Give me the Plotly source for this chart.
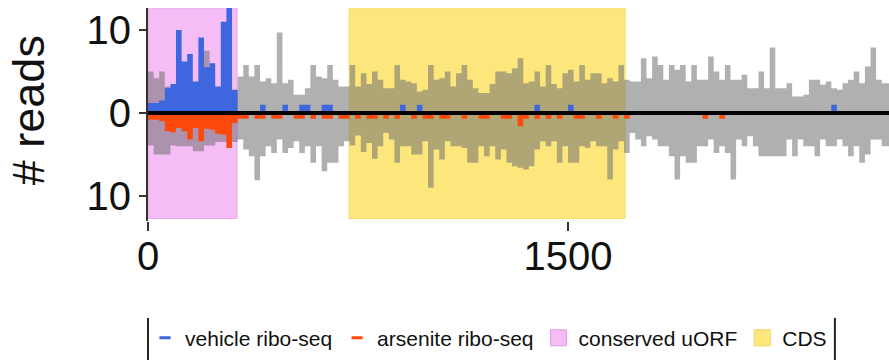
import numpy as np
import plotly.graph_objects as go

BIN_NT = 20  # nucleotides per bin

# gray: total reads (upper = vehicle, lower = arsenite)
gray_up = [
    5, 4.2, 5, 3.2, 3, 3, 3, 3, 3, 3,
    7.5, 3, 3, 3, 6.8, 2.5, 4.4, 5.8, 4.4, 5.8,
    3.8, 4.2, 3.6, 9.7, 3.6, 4, 2.2, 2.2, 3, 5.8,
    4.4, 4.2, 5.8, 4, 3.2, 3.2, 5.8, 3.2, 4.8, 3.5,
    5, 4, 3, 3, 5.8, 4, 3.8, 3.6, 2.6, 2.8,
    5.8, 4, 4.2, 5, 3.2, 4.8, 5.8, 4, 3, 2.4,
    2.4, 3.5, 5, 5, 4.8, 5.4, 6.6, 3.6, 3.8, 5,
    3.2, 5.8, 3.5, 3, 4.8, 5.2, 3.8, 5.8, 4, 4.8,
    4.8, 3.6, 4.2, 3.8, 5.8, 4, 3.8, 3.8, 6.6, 4.2,
    6.8, 5.8, 4, 5.8, 5.2, 5.8, 3.8, 5.8, 4, 4,
    6.8, 5, 4, 5.8, 4, 4, 4.6, 3, 3, 5,
    3, 7.9, 3, 3, 3.6, 2, 2, 2.2, 4, 4,
    3.4, 3.8, 3, 2.8, 3.6, 4, 5, 3.6, 5.6, 7.9,
    4, 3.6, 3.6,
]
gray_down = [
    -3.9, -5, -5, -5, -3.9, -4, -4, -4, -4.6, -4.6,
    -3.9, -3.9, -3.5, -3.5, -3.5, -3.5, -3.2, -4.4, -5.2, -8.1,
    -5.2, -4, -4.8, -3.2, -4.8, -4.2, -3.4, -4.8, -4, -6,
    -4, -7, -6, -6, -4, -3.4, -3.9, -2.7, -4.7, -3.6,
    -5.5, -4, -2.4, -3.2, -6, -4, -4, -5, -5, -3.4,
    -9, -4.4, -5.6, -3.4, -4, -4, -4.2, -6, -6, -4,
    -5.2, -4, -5.6, -4.4, -6, -6.4, -6.6, -6.8, -6.4, -4.4,
    -3.4, -4, -3.4, -6, -4, -6, -6, -4, -4.2, -3.4,
    -4, -4, -8, -4.4, -3.4, -4.8, -2.4, -3.2, -4, -2.8,
    -3.2, -4, -4, -5.2, -8, -5.2, -6, -6, -4, -4,
    -3.2, -4.8, -4, -4.8, -8, -3.2, -4, -2.8, -4, -5.2,
    -5.2, -5.2, -5.2, -5.2, -3.2, -5.2, -3.2, -4, -4, -5.2,
    -3.2, -4, -4, -3.2, -4, -5.2, -4, -6, -5, -3.2,
    -3.2, -4, -4,
]
vehicle_ribo = [
    1.2, 1.2, 1.5, 3, 3.5, 10, 6.2, 7.1, 3.8, 9.1,
    5.5, 6, 3.2, 11, 14, 2.8, 0, 0, 0, 0,
    1, 0, 0, 0, 1, 0, 0, 1, 1, 0,
    0, 1, 1, 0, 0, 0, 0, 0, 0, 0,
    0, 0, 0, 0, 0, 1, 0, 0, 1, 0,
    0, 0, 0, 0, 0, 0, 0, 0, 0, 0,
    0, 0, 0, 0, 0, 0, 0, 0, 0, 1,
    0, 0, 0, 0, 0, 1, 0, 0, 0, 0,
    0, 0, 0, 0, 0, 0, 0, 0, 0, 0,
    0, 0, 0, 0, 0, 0, 0, 0, 0, 0,
    0, 0, 0, 0, 0, 0, 0, 0, 0, 0,
    0, 0, 0, 0, 0, 0, 0, 0, 0, 0,
    0, 0, 1, 0, 0, 0, 0, 0, 0, 0,
    0, 0, 0,
]
arsenite_ribo = [
    -0.8, -0.8, -1, -2.2, -2.3, -1.8, -2.2, -3.2, -1.8, -3.4,
    -1.9, -2, -2.5, -2.6, -4.2, -1.2, -0.7, -0.7, 0, -0.7,
    -0.7, 0, -0.7, -0.7, 0, 0, -0.7, -0.7, 0, -0.7,
    0, -0.7, -0.7, 0, -0.7, -0.7, 0, -0.7, 0, -0.7,
    -0.7, 0, -0.7, 0, -0.7, 0, 0, -0.7, 0, -0.7,
    -0.7, 0, -0.7, -0.7, 0, 0, -0.7, 0, 0, -0.7,
    -0.7, 0, 0, -0.7, -0.7, 0, -1.6, -0.7, 0, -0.7,
    0, -0.7, 0, -0.7, 0, 0, -0.7, -0.7, 0, 0,
    -0.7, 0, 0, -0.7, 0, -0.7, 0, 0, 0, 0,
    0, 0, 0, 0, 0, 0, 0, 0, 0, -0.7,
    0, 0, -0.7, 0, 0, 0, 0, 0, 0, 0,
    0, 0, 0, 0, 0, 0, 0, 0, 0, 0,
    0, 0, 0, 0, 0, 0, 0, 0, 0, 0,
    0, 0, 0,
]

uorf_region = [0, 318]
cds_region = [718, 1704]
x_ticks = [0, 1500]
y_ticks = [10, 0, -10]
y_ticktext = ["10", "0", "10"]

X_MAX = 2646
Y_MIN, Y_MAX = -13.0, 12.65

n = len(gray_up)
edges = list(np.arange(n + 1) * BIN_NT)


def step(vals):
    return list(vals) + [vals[-1]]


GRAY = "rgba(112,112,112,0.55)"
BLUE = "#3e66df"
RED = "#fb4a0c"
PINK = "#f5bdf5"
YELLOW = "#fde77d"

fig = go.Figure()
for vals, col in [(gray_up, GRAY), (gray_down, GRAY), (vehicle_ribo, BLUE), (arsenite_ribo, RED)]:
    fig.add_trace(go.Scatter(
        x=edges, y=step(vals), mode="lines", line=dict(width=0, shape="hv"),
        fill="tozeroy", fillcolor=col, showlegend=False, hoverinfo="skip"))

# legend-only entries
fig.add_trace(go.Scatter(x=[None], y=[None], mode="markers", name="vehicle ribo-seq",
                         marker=dict(symbol="line-ew", size=8, line=dict(width=3, color=BLUE))))
fig.add_trace(go.Scatter(x=[None], y=[None], mode="markers", name="arsenite ribo-seq",
                         marker=dict(symbol="line-ew", size=8, line=dict(width=3, color=RED))))
fig.add_trace(go.Scatter(x=[None], y=[None], mode="markers", name="conserved uORF",
                         marker=dict(symbol="square", size=18, color=PINK, line=dict(width=1, color="#e39be3"))))
fig.add_trace(go.Scatter(x=[None], y=[None], mode="markers", name="CDS",
                         marker=dict(symbol="square", size=18, color=YELLOW, line=dict(width=1, color="#f0d55e"))))

shapes = [
    dict(type="rect", xref="x", yref="y", x0=uorf_region[0], x1=uorf_region[1], y0=-12.7, y1=Y_MAX,
         fillcolor=PINK, line=dict(color="#eaa6ea", width=1), layer="below"),
    dict(type="rect", xref="x", yref="y", x0=cds_region[0], x1=cds_region[1], y0=-12.7, y1=Y_MAX,
         fillcolor=YELLOW, line=dict(color="#f6df70", width=1), layer="below"),
    dict(type="line", xref="paper", yref="y", x0=0, x1=1, y0=0, y1=0,
         line=dict(color="black", width=4), layer="above"),
    dict(type="line", xref="paper", yref="paper", x0=0, x1=0, y0=-0.455, y1=-0.67,
         line=dict(color="#222", width=2)),
    dict(type="line", xref="paper", yref="paper", x0=0.927, x1=0.927, y0=-0.455, y1=-0.67,
         line=dict(color="#222", width=2)),
]

TICKFONT = dict(family="Liberation Sans, Arial, sans-serif", size=40, color="#111")

fig.update_layout(
    width=889, height=360,
    margin=dict(l=148, r=0, t=8, b=139),
    paper_bgcolor="white", plot_bgcolor="white",
    shapes=shapes,
    showlegend=True,
    legend=dict(orientation="h", x=-0.004, xanchor="left", y=-0.55, yanchor="middle",
                font=dict(family="Liberation Sans, Arial, sans-serif", size=21, color="#111"),
                itemwidth=30, tracegroupgap=0, bgcolor="rgba(0,0,0,0)"),
    xaxis=dict(range=[0, X_MAX], tickvals=x_ticks, ticks="outside", ticklen=9, tickwidth=2,
               tickcolor="#333", showline=False, showgrid=False, zeroline=False, tickfont=TICKFONT,
               ticklabelstandoff=-9),
    yaxis=dict(range=[Y_MIN, Y_MAX], tickvals=y_ticks, ticktext=y_ticktext, ticks="outside",
               ticklen=7, tickwidth=2, tickcolor="#333", showline=True, linewidth=2, linecolor="#333",
               showgrid=False, zeroline=False, tickfont=TICKFONT),
    annotations=[dict(text="# reads", xref="paper", yref="paper", x=-0.162, y=0.52,
                      textangle=-90, showarrow=False, xanchor="center", yanchor="middle",
                      font=dict(family="Liberation Sans, Arial, sans-serif", size=45, color="#111"))],
)

fig.write_html("out.html")
